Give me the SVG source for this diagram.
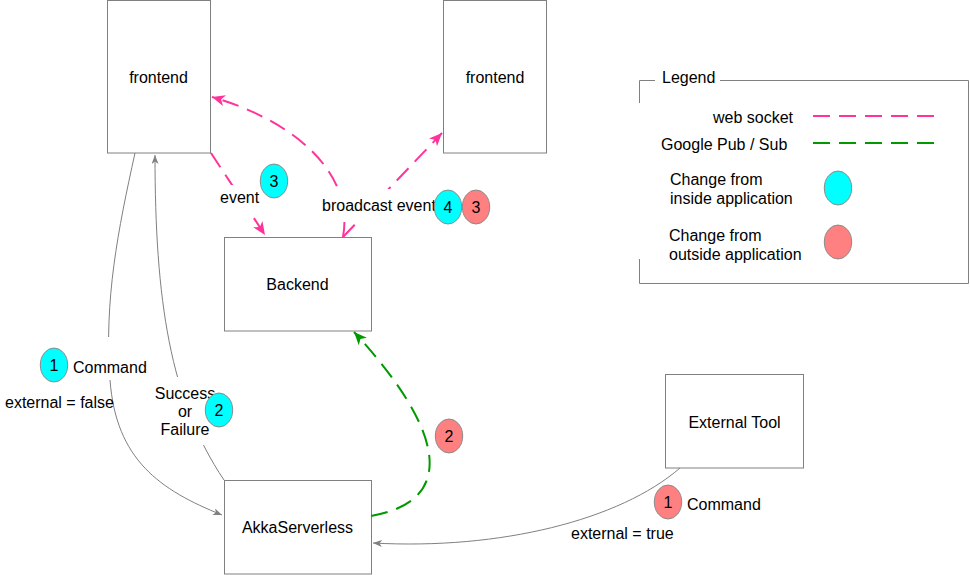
<svg xmlns="http://www.w3.org/2000/svg" width="970" height="575" viewBox="0 0 970 575">
<style>
text{font-family:"Liberation Sans",Arial,Helvetica,sans-serif;font-size:16px;fill:#000}
.box{fill:#fff;stroke:#808080;stroke-width:1}
.c{text-anchor:middle}
.ws{fill:none;stroke:#FF3399;stroke-width:2;stroke-dasharray:17 9}
.ps{fill:none;stroke:#009900;stroke-width:2;stroke-dasharray:17 9}
.gl{fill:none;stroke:#808080;stroke-width:1}
.in{fill:#00FFFF;stroke:#8a8a8a;stroke-width:1}
.out{fill:#FF8080;stroke:#8a8a8a;stroke-width:1}
.bg{fill:#fff;stroke:none}
</style>
<defs>
<marker id="pk" markerWidth="14" markerHeight="12" refX="13" refY="6" orient="auto" markerUnits="userSpaceOnUse"><path d="M0,0.5 L13,6 L0,11.5 L3.5,6 z" fill="#FF3399"/></marker>
<marker id="gr" markerWidth="14" markerHeight="12" refX="13" refY="6" orient="auto" markerUnits="userSpaceOnUse"><path d="M0,0.5 L13,6 L0,11.5 L3.5,6 z" fill="#009900"/></marker>
<marker id="gy" markerWidth="10" markerHeight="8" refX="9" refY="3.5" orient="auto" markerUnits="userSpaceOnUse"><path d="M0,0 L9,3.5 L0,7 L2.5,3.5 z" fill="#808080"/></marker>
</defs>
<rect width="970" height="575" fill="#fff"/>

<g id="frontend-left"><rect class="box" x="107.5" y="0.5" width="103" height="152.5"/><text class="c" x="158.5" y="82.5">frontend</text></g>
<g id="frontend-right"><rect class="box" x="443.5" y="0.5" width="103" height="152.5"/><text class="c" x="495" y="82.5">frontend</text></g>
<g id="backend"><rect class="box" x="224.5" y="237.5" width="147" height="93.5"/><text class="c" x="297.5" y="289.5">Backend</text></g>
<g id="akka"><rect class="box" x="224.5" y="480.5" width="147" height="93.5"/><text class="c" x="297.5" y="532.5">AkkaServerless</text></g>
<g id="external-tool"><rect class="box" x="665.5" y="374.5" width="138" height="93.5"/><text class="c" x="734.5" y="427.5">External Tool</text></g>

<g id="connectors">
<path class="ws" d="M343,237 C355,172 292,120 212,97" marker-end="url(#pk)"/>
<path class="ws" d="M343,237 L442,133" marker-end="url(#pk)"/>
<path class="ws" d="M211,153 L265,235" marker-end="url(#pk)"/>
<path class="ps" d="M371,516 C462,500 440,425 354,332" marker-end="url(#gr)"/>
<path class="gl" d="M135,153 C118,230 104,300 110,380 S160,490 222,515" marker-end="url(#gy)"/>
<path class="gl" d="M224,480 C170,400 155,300 155,155" marker-end="url(#gy)"/>
<path class="gl" d="M680,468 C620,520 500,550 373,543" marker-end="url(#gy)"/>
</g>

<g id="labels">
<rect class="bg" x="218" y="185" width="42" height="30"/>
<text x="220" y="202.5">event</text>
<rect class="bg" x="320" y="189" width="117" height="33"/>
<text x="322" y="210.5">broadcast event</text>
<rect class="bg" x="70" y="337" width="80" height="43"/>
<text x="73" y="372.5">Command</text>
<text x="5" y="407.5">external = false</text>
<rect class="bg" x="152" y="377" width="66" height="68"/>
<text class="c" x="185" y="398.5">Success</text>
<text class="c" x="185" y="416.5">or</text>
<text class="c" x="185" y="434.5">Failure</text>
<text x="687" y="509.5">Command</text>
<text x="571" y="538.5">external = true</text>
</g>

<g id="badges">
<g id="b-in3"><ellipse class="in" cx="274" cy="181" rx="13.7" ry="17"/><text class="c" x="274" y="186.5">3</text></g>
<g id="b-in4"><ellipse class="in" cx="448" cy="207" rx="13.7" ry="17"/><text class="c" x="448" y="212.5">4</text></g>
<g id="b-out3"><ellipse class="out" cx="476" cy="207" rx="13.7" ry="17"/><text class="c" x="476" y="212.5">3</text></g>
<g id="b-in1"><ellipse class="in" cx="54" cy="365" rx="13.7" ry="17"/><text class="c" x="54" y="370.5">1</text></g>
<g id="b-in2"><ellipse class="in" cx="219" cy="410" rx="13.7" ry="17"/><text class="c" x="219" y="415.5">2</text></g>
<g id="b-out2"><ellipse class="out" cx="449" cy="436" rx="13.7" ry="17"/><text class="c" x="449" y="441.5">2</text></g>
<g id="b-out1"><ellipse class="out" cx="668" cy="502" rx="13.7" ry="17"/><text class="c" x="668" y="507.5">1</text></g>
</g>

<g id="legend">
<path d="M655,80.5 L639.5,80.5 L639.5,103 M639.5,259 L639.5,283.5 L968.5,283.5 L968.5,80.5 L720,80.5" fill="none" stroke="#808080" stroke-width="1"/>
<text x="662" y="82.5">Legend</text>
<text x="793" y="122.5" text-anchor="end">web socket</text>
<line class="ws" x1="813" y1="116" x2="935" y2="116"/>
<text x="661" y="149.5">Google Pub / Sub</text>
<line class="ps" x1="813" y1="143" x2="935" y2="143"/>
<text x="670" y="185">Change from</text>
<text x="670" y="204">inside application</text>
<ellipse class="in" cx="838" cy="188" rx="13.7" ry="17"/>
<text x="669" y="241">Change from</text>
<text x="669" y="260">outside application</text>
<ellipse class="out" cx="838" cy="242" rx="13.7" ry="17"/>
</g>
</svg>
